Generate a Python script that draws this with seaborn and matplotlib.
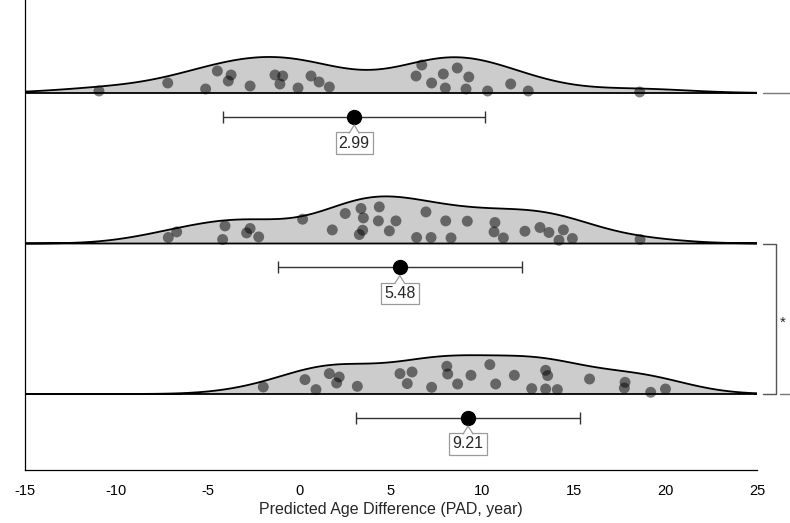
import numpy as np
import pandas as pd
import matplotlib
matplotlib.use("Agg")
import matplotlib.pyplot as plt
import seaborn as sns
from matplotlib.patches import Polygon

# ---------------- data ----------------
groups = ["Group 1", "Group 2", "Group 3"]

g1_values = [-10.96, -7.20, -5.13, -4.49, -3.74, -3.89, -2.70, -1.34, -0.92, -1.07,
             -0.08, 0.63, 1.07, 1.63, 6.68, 6.37, 7.86, 8.62, 9.25, 7.22, 7.97,
             9.10, 10.28, 11.54, 12.50, 18.59]
g1_jitter = [2, 10, 4, 22, 18, 12, 7, 18, 17, 9, 5, 17, 11, 6, 28, 17, 19, 25, 16,
             10, 5, 4, 2, 9, 2, 1]

g2_values = [-7.17, -6.71, -4.07, -4.20, -2.70, -2.89, -2.23, 0.17, 1.79, 2.50, 3.36,
             3.49, 3.45, 3.27, 4.36, 4.31, 5.27, 4.91, 6.91, 7.99, 9.17, 6.40, 7.19,
             8.28, 10.68, 10.63, 11.14, 12.32, 13.14, 13.63, 14.42, 14.18, 14.91, 18.61]
g2_jitter = [6, 11.6, 17.6, 4, 15, 10.6, 6.6, 24.3, 13.6, 30, 35, 25.6, 13.3, 9, 36.6,
             22.6, 22.6, 12.6, 31.6, 22.6, 22.3, 6, 6, 5.6, 21, 11.6, 5.6, 12.3, 16,
             11, 13.6, 3.3, 5, 4]

g3_values = [-1.98, 0.30, 0.90, 1.63, 2.17, 2.03, 3.16, 5.49, 6.15, 5.89, 7.22, 8.05,
             8.10, 8.64, 9.37, 10.40, 10.72, 11.74, 13.45, 13.56, 12.69, 13.45, 14.09,
             15.85, 17.79, 17.75, 19.19, 20.00]
g3_jitter = [7, 14.4, 4.4, 20.4, 17, 11, 7.7, 20.4, 22, 10.4, 6.7, 27.7, 20, 10, 18.7,
             29.4, 10, 18.7, 23.7, 18.4, 5.4, 5, 4.4, 15, 11.7, 6, 1.7, 5]

means = [2.99, 5.48, 9.21]
sds = [7.16, 6.68, 6.13]
mean_labels = ["2.99", "5.48", "9.21"]
xticks = [-15, -10, -5, 0, 5, 10, 15, 20, 25]
xlabel = "Predicted Age Difference (PAD, year)"

# ---------------- layout ----------------
PX = 150.5   # pixels per row unit
W = 0.313    # violin width (half violin baseline sits at row + W/2)

df = pd.DataFrame({
    "value": g1_values + g2_values + g3_values,
    "group": [groups[0]] * len(g1_values) + [groups[1]] * len(g2_values)
             + [groups[2]] * len(g3_values),
    "jit": g1_jitter + g2_jitter + g3_jitter,
})
df["row"] = df["group"].map({g: i for i, g in enumerate(groups)})
df["ypos"] = df["row"] + W / 2 - df["jit"] / PX

sns.set_style("white")
plt.rcParams["font.family"] = ["Liberation Sans", "DejaVu Sans"]

fig = plt.figure(figsize=(7.9, 5.23), dpi=100)
ax = fig.add_axes([25 / 790, (523 - 470) / 523, (757 - 25) / 790, 470 / 523])

sns.violinplot(data=df, x="value", y="group", order=groups, orient="h",
               split=True, inner=None, cut=12, gridsize=600,
               density_norm="count", bw_adjust=0.74, width=W,
               color="#cccccc", linecolor="black", linewidth=1.3,
               saturation=1, ax=ax)

sns.scatterplot(data=df, x="value", y="ypos", color="black", alpha=0.5,
                s=62, edgecolor="none", ax=ax, zorder=3, legend=False)

for i, (m, sd, lab) in enumerate(zip(means, sds, mean_labels)):
    b = i + W / 2
    yd = b + 23.5 / PX
    ax.errorbar([m], [yd], xerr=[sd], fmt="o", color="black", ecolor="#333333",
                elinewidth=1.0, capsize=4.5, capthick=1.0, markersize=10, zorder=4)
    yl = b + 50 / PX
    ax.text(m, yl, lab, ha="center", va="center", fontsize=11.5, zorder=5,
            bbox=dict(boxstyle="square,pad=0.2", fc="white", ec="#9a9a9a", lw=0.9))
    top = b + 40 / PX
    tip = b + 32 / PX
    hw = 0.27
    ax.add_patch(Polygon([[m - hw, top + 1.2 / PX], [m, tip], [m + hw, top + 1.2 / PX]],
                         closed=True, fc="white", ec="none", zorder=6))
    ax.plot([m - hw, m, m + hw], [top, tip, top], color="#9a9a9a", lw=0.9, zorder=7)

# right-hand markers and significance bracket
b0, b1, b2 = (i + W / 2 for i in range(3))
ax.plot([25.33, 26.85], [b0, b0], color="#777777", lw=1.0, clip_on=False)
ax.plot([25.33, 26.04, 26.04, 25.33], [b1, b1, b2, b2], color="#555555", lw=1.0,
        clip_on=False)
ax.plot([26.26, 26.85], [b2, b2], color="#777777", lw=1.0, clip_on=False)
ax.text(26.42, (b1 + b2) / 2 + 0.03, "*", ha="center", va="center", fontsize=11,
        clip_on=False)

ax.set_xlim(-15, 25)
ax.set_ylim(b2 + (470 - 394) / PX, b0 - 93 / PX)
ax.set_xticks(xticks)
ax.set_xticklabels([str(t) for t in xticks], fontsize=10.5)
ax.set_yticks([])
ax.set_ylabel("")
ax.set_xlabel(xlabel, fontsize=11.5, labelpad=3)
ax.tick_params(axis="x", direction="in", length=5, width=0.8, colors="black", pad=10)
for side in ["top", "right"]:
    ax.spines[side].set_visible(False)
for side in ["left", "bottom"]:
    ax.spines[side].set_color("black")
    ax.spines[side].set_linewidth(0.9)

fig.savefig("out.png", dpi=100)
